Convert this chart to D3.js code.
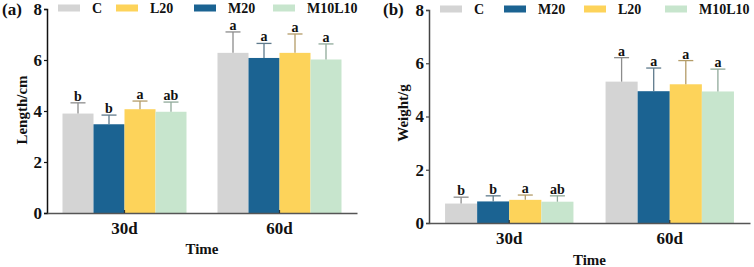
<!DOCTYPE html>
<html><head><meta charset="utf-8">
<script src="https://cdn.jsdelivr.net/npm/d3@7"></script>
<style>body{margin:0;background:#fff}svg{display:block}</style>
</head><body><svg id="c" width="754" height="267"></svg>
<script>
const FONT = "'Liberation Serif', 'Times New Roman', Times, 'DejaVu Serif', serif";
const times = ["30d", "60d"];
const groups = ["C", "M20", "L20", "M10L10"];
const colors = {C: "#d4d4d4", M20: "#1b6392", L20: "#fdd35a", M10L10: "#c7e5cd"};
const errColors = {C: "#8c8c8c", M20: "#5f7a8c", L20: "#b49c68", M10L10: "#90aa9a"};
const yTicks = [0, 2, 4, 6, 8];

// Panel (a) Length
const lengthMean = {C: [3.90, 6.28], M20: [3.48, 6.08], L20: [4.07, 6.28], M10L10: [3.97, 6.02]};
const lengthErr  = {C: [0.42, 0.82], M20: [0.36, 0.57], L20: [0.32, 0.74], M10L10: [0.38, 0.61]};
const lengthSig  = {C: ["b", "a"], M20: ["b", "a"], L20: ["a", "a"], M10L10: ["ab", "a"]};
const legendA = ["C", "L20", "M20", "M10L10"];

// Panel (b) Weight
const weightMean = {C: [0.73, 5.31], M20: [0.81, 4.95], L20: [0.87, 5.21], M10L10: [0.80, 4.94]};
const weightErr  = {C: [0.24, 0.90], M20: [0.21, 0.87], L20: [0.18, 0.89], M10L10: [0.22, 0.84]};
const weightSig  = {C: ["b", "a"], M20: ["b", "a"], L20: ["a", "a"], M10L10: ["ab", "a"]};
const legendB = ["C", "M20", "L20", "M10L10"];

const svg = d3.select("#c");

function txt(sel, size) {
  return sel.style("font-family", FONT).style("font-weight", "bold").style("font-size", size + "px").attr("fill", "#111");
}

function panel(cfg) {
  const g = svg.append("g");
  const x0 = d3.scaleBand().domain(times).range([cfg.x0, cfg.x1]).paddingInner(0.2).paddingOuter(0.1);
  const x1 = d3.scaleBand().domain(groups).range([0, x0.bandwidth()]);
  const y = d3.scaleLinear().domain([0, 8]).range([cfg.y0, cfg.y8]);

  groups.forEach(k => {
    times.forEach((t, i) => {
      const cx = x0(t) + x1(k) + x1.bandwidth() / 2;
      g.append("rect").attr("x", x0(t) + x1(k)).attr("width", x1.bandwidth())
        .attr("y", y(cfg.mean[k][i])).attr("height", y(0) - y(cfg.mean[k][i]))
        .attr("fill", colors[k]);
      const top = cfg.mean[k][i] + cfg.err[k][i];
      g.append("line").attr("x1", cx).attr("x2", cx).attr("y1", y(cfg.mean[k][i])).attr("y2", y(top))
        .attr("stroke", errColors[k]).attr("stroke-width", 1.3);
      g.append("line").attr("x1", cx - 7.5).attr("x2", cx + 7.5).attr("y1", y(top)).attr("y2", y(top))
        .attr("stroke", errColors[k]).attr("stroke-width", 1.3);
      txt(g.append("text"), 14).attr("x", cx).attr("y", y(top) - 2).attr("text-anchor", "middle")
        .text(cfg.sig[k][i]);
    });
  });

  const ya = g.append("g").attr("transform", `translate(${cfg.x0},0)`)
    .call(d3.axisLeft(y).tickValues(yTicks).tickSize(3).tickPadding(2));
  ya.select(".domain").attr("stroke", cfg.axisColor).attr("stroke-width", 1.5);
  ya.selectAll(".tick line").attr("stroke", cfg.axisColor).attr("stroke-width", 1.2);
  txt(ya.selectAll(".tick text"), 17);

  const xa = g.append("g").attr("transform", `translate(0,${cfg.y0})`)
    .call(d3.axisBottom(x0).tickSize(3).tickPadding(6).tickSizeOuter(0));
  xa.select(".domain").attr("stroke", "#555").attr("stroke-width", 1.5);
  xa.selectAll(".tick line").attr("stroke", "#333").attr("stroke-width", 1.2).attr("y1", -3).attr("y2", 0);
  txt(xa.selectAll(".tick text"), 17);

  txt(g.append("text"), 15).attr("x", (cfg.x0 + cfg.x1) / 2).attr("y", cfg.timeY).attr("text-anchor", "middle").text("Time");
  txt(g.append("text"), 15).attr("transform", `translate(${cfg.titleX},${cfg.titleY}) rotate(-90)`)
    .attr("text-anchor", "middle").text(cfg.title);
  txt(g.append("text"), 17).attr("x", cfg.labX).attr("y", 15).text(cfg.label);

  cfg.legend.forEach((k, i) => {
    const lx = cfg.legX[i];
    g.append("rect").attr("x", lx).attr("y", cfg.legY - 3.5).attr("width", 22).attr("height", 7).attr("fill", colors[k]);
    txt(g.append("text"), 14).attr("x", lx + 34).attr("y", cfg.legY + 5).text(k);
  });
}

panel({x0: 47, x1: 357, y0: 213, y8: 9, mean: lengthMean, err: lengthErr, sig: lengthSig,
  axisColor: "#111", timeY: 254, title: "Length/cm", titleX: 27, titleY: 110, label: "(a)", labX: 2,
  legend: legendA, legX: [58, 116, 194, 273], legY: 8});
panel({x0: 429, x1: 750, y0: 223, y8: 10, mean: weightMean, err: weightErr, sig: weightSig,
  axisColor: "#444", timeY: 265, title: "Weight/g", titleX: 408, titleY: 113, label: "(b)", labX: 383,
  legend: legendB, legX: [440, 504, 584, 665], legY: 9});
</script></body></html>
